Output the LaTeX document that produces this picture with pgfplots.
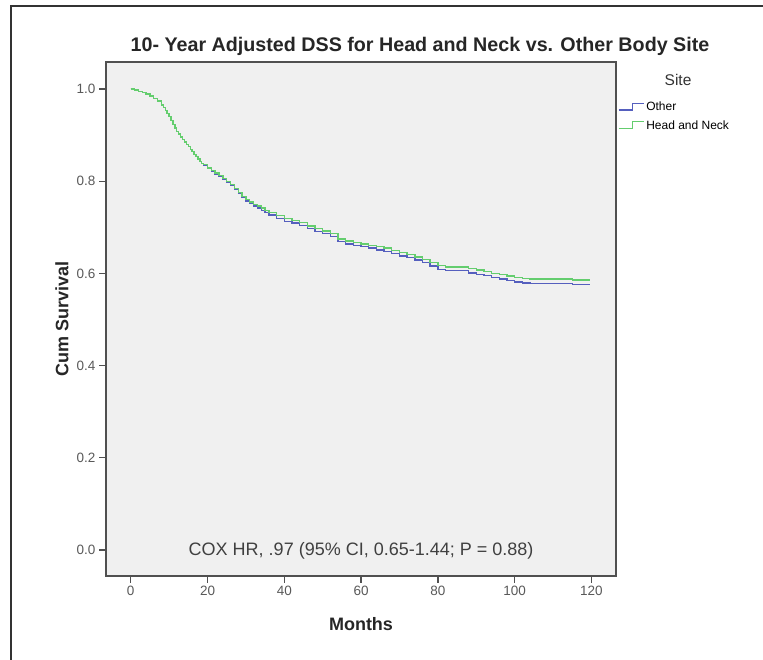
\documentclass[border=0pt]{standalone}
\usepackage{fontspec}
\setmainfont{Liberation Sans}
\usepackage{pgfplots}
\pgfplotsset{compat=1.18}
\definecolor{other}{RGB}{85,95,190}
\definecolor{hn}{RGB}{100,205,110}
\definecolor{framec}{RGB}{80,80,80}
\definecolor{bgc}{RGB}{240,240,240}

\begin{document}
\begin{tikzpicture}[x=1pt,y=1pt]
\path[use as bounding box] (0,0) rectangle (763,660);
\draw[line width=2pt, black!80] (11,0) -- (11,654) -- (763,654);
\begin{axis}[
  at={(106pt,84pt)}, anchor=south west,
  width=510pt, height=514pt, scale only axis,
  xmin=-6.44, xmax=126.4, ymin=-0.0564, ymax=1.0586,
  axis background/.style={fill=bgc},
  axis line style={framec, line width=1.8pt},
  xtick={0,20,40,60,80,100,120},
  ytick={0,0.2,0.4,0.6,0.8,1.0},
  tick align=outside, tick pos=left, major tick length=7pt,
  tick style={framec, line width=1.4pt},
  /pgf/number format/assume math mode=true,
  yticklabel style={/pgf/number format/fixed, /pgf/number format/fixed zerofill, /pgf/number format/precision=1},
  ticklabel style={font=\fontsize{13.5}{15}\selectfont, text=black!65},
  title={10- Year Adjusted DSS for Head and Neck vs. Other Body Site},
  title style={at={(axis description cs:0.6157,1.0097)}, anchor=base, font=\bfseries\fontsize{19.7}{22}\selectfont, text=black!85},
  xlabel={Months},
  xlabel style={at={(axis description cs:0.5,-0.1051)}, anchor=base, font=\bfseries\fontsize{18}{20}\selectfont, text=black!85},
  ylabel={Cum Survival},
  ylabel style={at={(axis description cs:-0.0863,0.5)}, anchor=center, font=\bfseries\fontsize{18}{20}\selectfont, text=black!85},
  legend style={at={(axis description cs:1.0039,0.926)}, anchor=north west, draw=none, fill=none,
    font=\fontsize{12}{13}\selectfont, inner sep=0pt, row sep=4pt,
    /tikz/every even column/.append style={column sep=1pt}},
  legend cell align=left,
  legend image code/.code={\draw[#1, line width=1.1pt] (0pt,-2.7pt) -- (14pt,-2.7pt) -- (14pt,3.6pt) -- (25pt,3.6pt);},
  clip=false,
]
\addplot[const plot, other, line width=1.4pt] coordinates {
(0,1.000) (1,0.998) (2,0.995) (3,0.992) (4,0.989) (5,0.985) (6,0.980) (7,0.974)
(8,0.965) (8.5,0.960) (9,0.953) (9.5,0.947) (10,0.940) (10.5,0.932) (11,0.923) (11.5,0.915)
(12,0.908) (12.5,0.902) (13,0.896) (13.5,0.890) (14,0.885) (14.5,0.880) (15,0.875) (15.5,0.869)
(16,0.864) (16.5,0.858) (17,0.853) (17.5,0.848) (18,0.843) (18.5,0.839) (19,0.835) (20,0.827)
(21,0.821) (22,0.816) (23,0.810) (24,0.804) (25,0.797) (26,0.791) (27,0.782) (28,0.773)
(29,0.765) (30,0.757) (31,0.752) (32,0.746) (33,0.742) (34,0.737) (35,0.732) (36,0.727)
(38,0.719) (40,0.713) (42,0.709) (44,0.704) (46,0.697) (48,0.691) (50,0.686) (52,0.680)
(54,0.669) (56,0.664) (58,0.661) (60,0.658) (62,0.655) (64,0.651) (66,0.648) (68,0.643)
(70,0.638) (72,0.634) (74,0.629) (76,0.623) (78,0.616) (80,0.609) (82,0.606) (84,0.606)
(86,0.606) (88,0.601) (90,0.598) (92,0.595) (94,0.591) (96,0.588) (98,0.584) (100,0.581)
(102,0.579) (104,0.578) (110,0.578) (115,0.576) (119.5,0.575)
};
\addlegendentry{Other}
\addplot[const plot, hn, line width=1.4pt] coordinates {
(0,1.000) (1,0.998) (2,0.995) (3,0.992) (4,0.989) (5,0.985) (6,0.980) (7,0.974)
(8,0.965) (8.5,0.960) (9,0.953) (9.5,0.947) (10,0.940) (10.5,0.932) (11,0.923) (11.5,0.915)
(12,0.908) (12.5,0.902) (13,0.896) (13.5,0.890) (14,0.885) (14.5,0.880) (15,0.875) (15.5,0.869)
(16,0.864) (16.5,0.858) (17,0.853) (17.5,0.848) (18,0.843) (18.5,0.839) (19,0.836) (20,0.829)
(21,0.823) (22,0.818) (23,0.812) (24,0.806) (25,0.799) (26,0.793) (27,0.784) (28,0.775)
(29,0.767) (30,0.760) (31,0.755) (32,0.750) (33,0.746) (34,0.742) (35,0.737) (36,0.732)
(38,0.725) (40,0.719) (42,0.715) (44,0.710) (46,0.703) (48,0.697) (50,0.692) (52,0.686)
(54,0.675) (56,0.670) (58,0.667) (60,0.664) (62,0.661) (64,0.658) (66,0.655) (68,0.650)
(70,0.645) (72,0.641) (74,0.636) (76,0.630) (78,0.624) (80,0.617) (82,0.614) (84,0.614)
(86,0.614) (88,0.610) (90,0.607) (92,0.604) (94,0.600) (96,0.597) (98,0.594) (100,0.591)
(102,0.589) (104,0.588) (110,0.588) (115,0.586) (119.5,0.584)
};
\addlegendentry{Head and Neck}
\node[anchor=base, font=\fontsize{15.5}{17}\selectfont, text=black!80] at (axis description cs:1.1216,0.9533) {Site};
\node[anchor=base, font=\fontsize{18}{20}\selectfont, text=black!75] at (axis cs:60,-0.011) {COX HR, .97 (95\% CI, 0.65-1.44; P = 0.88)};
\end{axis}
\end{tikzpicture}
\end{document}
